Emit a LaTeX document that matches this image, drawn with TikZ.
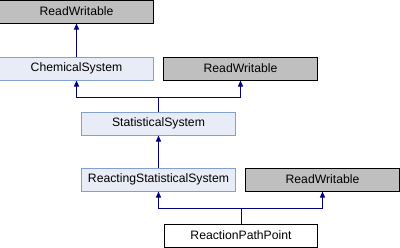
\documentclass[tikz,border=0pt]{standalone}
\usepackage{fontspec}
\setmainfont{Liberation Sans}
\usetikzlibrary{arrows.meta}
\definecolor{edgeblue}{HTML}{000080}
\definecolor{clsfill}{HTML}{E8ECF6}
\definecolor{clsdraw}{HTML}{84A0D0}
\definecolor{extfill}{HTML}{BFBFBF}
\begin{document}
\begin{tikzpicture}[x=1bp,y=-1bp,
  box/.style={rectangle,minimum width=153bp,minimum height=23bp,inner sep=0pt,
    line width=1bp,font=\fontsize{12.2bp}{14bp}\selectfont},
  cls/.style={box,draw=clsdraw,fill=clsfill},
  ext/.style={box,draw=black,fill=extfill},
  leaf/.style={box,draw=black,fill=white},
  inh/.style={draw=edgeblue,line width=1bp,-{Triangle[width=5bp,length=6bp]}},
  ln/.style={draw=edgeblue,line width=1bp}]
\useasboundingbox (0,0) rectangle (400,248);
\node[ext]  (rw1)  at (76.5,11.5)  {ReadWritable};
\node[cls]  (chem) at (76.5,68.5)  {ChemicalSystem};
\node[ext]  (rw2)  at (240.5,68.5) {ReadWritable};
\node[cls]  (stat) at (158.5,123.5) {StatisticalSystem};
\node[cls]  (rss)  at (158.5,179.5) {ReactingStatisticalSystem};
\node[ext]  (rw3)  at (322.5,179.5) {ReadWritable};
\node[leaf] (rpp)  at (241,235.5)  {ReactionPathPoint};
% ChemicalSystem derives from ReadWritable
\draw[inh] (chem.north) -- (rw1.south);
% StatisticalSystem derives from ChemicalSystem and ReadWritable
\coordinate (j1) at (stat.north |- 0,97);
\draw[ln] (stat.north) -- (j1);
\draw[inh] (j1) -| (chem.south);
\draw[inh] (j1) -| (rw2.south);
% ReactingStatisticalSystem derives from StatisticalSystem
\draw[inh] (rss.north) -- (stat.south);
% ReactionPathPoint derives from ReactingStatisticalSystem and ReadWritable
\coordinate (j2) at (rpp.north |- 0,208);
\draw[ln] (rpp.north) -- (j2);
\draw[inh] (j2) -| (rss.south);
\draw[inh] (j2) -| (rw3.south);
\end{tikzpicture}
\end{document}
